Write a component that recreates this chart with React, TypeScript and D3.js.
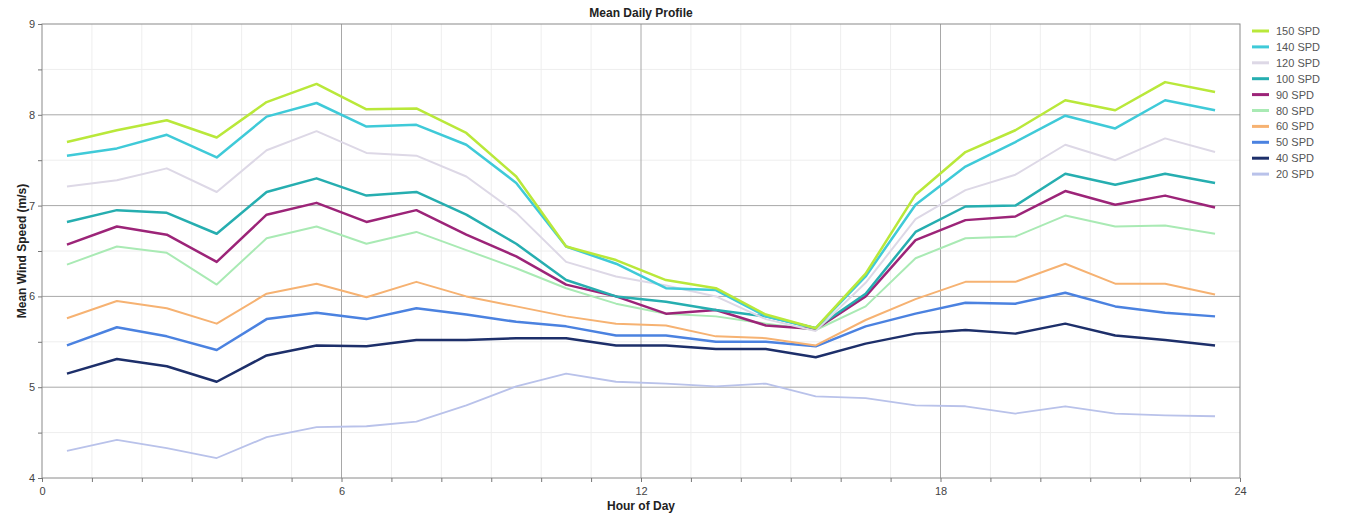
import { useRef, useEffect } from 'react';
import * as d3 from 'd3';

const hours = [
  0.5, 1.5, 2.5, 3.5, 4.5, 5.5, 6.5, 7.5, 8.5, 9.5, 10.5, 11.5, 12.5, 13.5, 14.5, 15.5, 16.5,
  17.5, 18.5, 19.5, 20.5, 21.5, 22.5, 23.5,
];

const spd150 = [7.7, 7.83, 7.94, 7.75, 8.14, 8.34, 8.06, 8.07, 7.8, 7.32, 6.55, 6.4, 6.18, 6.09, 5.8, 5.65, 6.25, 7.12, 7.59, 7.83, 8.16, 8.05, 8.36, 8.25];
const spd140 = [7.55, 7.63, 7.78, 7.53, 7.98, 8.13, 7.87, 7.89, 7.67, 7.25, 6.55, 6.36, 6.09, 6.07, 5.78, 5.65, 6.22, 7.01, 7.43, 7.7, 7.99, 7.85, 8.16, 8.05];
const spd120 = [7.21, 7.28, 7.41, 7.15, 7.61, 7.82, 7.58, 7.55, 7.32, 6.92, 6.38, 6.22, 6.12, 6.0, 5.75, 5.62, 6.15, 6.85, 7.17, 7.34, 7.67, 7.5, 7.74, 7.59];
const spd100 = [6.82, 6.95, 6.92, 6.69, 7.15, 7.3, 7.11, 7.15, 6.9, 6.58, 6.18, 6.0, 5.94, 5.85, 5.78, 5.65, 6.03, 6.71, 6.99, 7.0, 7.35, 7.23, 7.35, 7.25];
const spd90 = [6.57, 6.77, 6.68, 6.38, 6.9, 7.03, 6.82, 6.95, 6.68, 6.44, 6.13, 6.0, 5.81, 5.85, 5.68, 5.64, 6.0, 6.62, 6.84, 6.88, 7.16, 7.01, 7.11, 6.98];
const spd80 = [6.35, 6.55, 6.48, 6.13, 6.64, 6.77, 6.58, 6.71, 6.51, 6.31, 6.09, 5.92, 5.81, 5.78, 5.7, 5.63, 5.89, 6.42, 6.64, 6.66, 6.89, 6.77, 6.78, 6.69];
const spd60 = [5.76, 5.95, 5.87, 5.7, 6.03, 6.14, 5.99, 6.16, 6.0, 5.89, 5.78, 5.7, 5.68, 5.56, 5.54, 5.46, 5.74, 5.97, 6.16, 6.16, 6.36, 6.14, 6.14, 6.02];
const spd50 = [5.46, 5.66, 5.56, 5.41, 5.75, 5.82, 5.75, 5.87, 5.8, 5.72, 5.67, 5.57, 5.57, 5.5, 5.5, 5.45, 5.67, 5.81, 5.93, 5.92, 6.04, 5.89, 5.82, 5.78];
const spd40 = [5.15, 5.31, 5.23, 5.06, 5.35, 5.46, 5.45, 5.52, 5.52, 5.54, 5.54, 5.46, 5.46, 5.42, 5.42, 5.33, 5.48, 5.59, 5.63, 5.59, 5.7, 5.57, 5.52, 5.46];
const spd20 = [4.3, 4.42, 4.33, 4.22, 4.45, 4.56, 4.57, 4.62, 4.8, 5.01, 5.15, 5.06, 5.04, 5.01, 5.04, 4.9, 4.88, 4.8, 4.79, 4.71, 4.79, 4.71, 4.69, 4.68];

const seriesNames = ['150 SPD', '140 SPD', '120 SPD', '100 SPD', '90 SPD', '80 SPD', '60 SPD', '50 SPD', '40 SPD', '20 SPD'];
const seriesValues = [spd150, spd140, spd120, spd100, spd90, spd80, spd60, spd50, spd40, spd20];
const seriesColors = ['#b9e83a', '#3fcad8', '#ddd8e6', '#26aeb0', '#9c2478', '#a9eab4', '#f6b272', '#4b82e0', '#1d2f6a', '#b9c2ea'];
const seriesWidths = [2.5, 2.5, 2, 2.5, 2.5, 2, 2, 2.5, 2.5, 1.8];

const xTicks = [0, 6, 12, 18, 24];
const yTicks = [4, 5, 6, 7, 8, 9];

const W = 1346;
const H = 519;
const plot = { left: 42, right: 1240, top: 24, bottom: 478 };
const font = '"Liberation Sans", Arial, sans-serif';

export default function App() {
  const gx = useRef<SVGGElement>(null);
  const gy = useRef<SVGGElement>(null);

  const x = d3.scaleLinear().domain([0, 24]).range([plot.left, plot.right]);
  const y = d3.scaleLinear().domain([4, 9]).range([plot.bottom, plot.top]);

  const line = d3
    .line<[number, number]>()
    .x((d) => x(d[0]))
    .y((d) => y(d[1]));

  useEffect(() => {
    const el = gx.current;
    if (!el) return;
    const g = d3.select(el);
    g.call(d3.axisBottom(x).tickValues(d3.range(0, 25)).tickSize(4).tickFormat((d) => (xTicks.includes(d as number) ? String(d) : '')));
    g.select('.domain').remove();
    g.selectAll('line').attr('stroke', '#777');
    g.selectAll('text').attr('fill', '#444').attr('font-size', 11).attr('font-family', font).attr('dy', '0.9em');
    return () => {
      g.selectAll('*').remove();
    };
  }, [x]);

  useEffect(() => {
    const el = gy.current;
    if (!el) return;
    const g = d3.select(el);
    g.call(d3.axisLeft(y).tickValues(d3.range(4, 9.01, 0.5)).tickSize(4).tickFormat((d) => (yTicks.includes(d as number) ? String(d) : '')));
    g.select('.domain').remove();
    g.selectAll('line').attr('stroke', '#777');
    g.selectAll('text').attr('fill', '#444').attr('font-size', 11).attr('font-family', font);
    return () => {
      g.selectAll('*').remove();
    };
  }, [y]);

  const minorX = d3.range(1, 24).filter((h) => h % 6 !== 0);
  const minorY = d3.range(4.5, 9, 1);

  return (
    <svg width={W} height={H} style={{ position: 'absolute', left: 0, top: 0, background: '#fff' }}>
      <text x={(plot.left + plot.right) / 2} y={17} textAnchor="middle" fontFamily={font} fontSize={12} fontWeight="bold" fill="#222">
        Mean Daily Profile
      </text>

      {minorX.map((h) => (
        <line key={`mx${h}`} x1={x(h)} x2={x(h)} y1={plot.top} y2={plot.bottom} stroke="#eeeeee" />
      ))}
      {minorY.map((v) => (
        <line key={`my${v}`} x1={plot.left} x2={plot.right} y1={y(v)} y2={y(v)} stroke="#eeeeee" />
      ))}
      {xTicks.slice(1, -1).map((h) => (
        <line key={`gx${h}`} x1={x(h)} x2={x(h)} y1={plot.top} y2={plot.bottom} stroke="#a8a8a8" />
      ))}
      {yTicks.slice(1, -1).map((v) => (
        <line key={`gy${v}`} x1={plot.left} x2={plot.right} y1={y(v)} y2={y(v)} stroke="#a8a8a8" />
      ))}
      <rect x={plot.left} y={plot.top} width={plot.right - plot.left} height={plot.bottom - plot.top} fill="none" stroke="#8a8a8a" />

      {seriesValues
        .map((vals, i) => ({ vals, i }))
        .reverse()
        .map(({ vals, i }) => (
          <path
            key={seriesNames[i]}
            d={line(hours.map((h, j) => [h, vals[j]] as [number, number]))!}
            fill="none"
            stroke={seriesColors[i]}
            strokeWidth={seriesWidths[i]}
            strokeLinejoin="round"
          />
        ))}

      <g ref={gx} transform={`translate(0,${plot.bottom})`} />
      <g ref={gy} transform={`translate(${plot.left},0)`} />

      <text x={(plot.left + plot.right) / 2} y={510} textAnchor="middle" fontFamily={font} fontSize={12} fontWeight="bold" fill="#222">
        Hour of Day
      </text>
      <text
        transform={`translate(26,${(plot.top + plot.bottom) / 2}) rotate(-90)`}
        textAnchor="middle"
        fontFamily={font}
        fontSize={12}
        fontWeight="bold"
        fill="#222"
      >
        Mean Wind Speed (m/s)
      </text>

      {seriesNames.map((name, i) => (
        <g key={`lg${name}`} transform={`translate(1252,${31 + i * 15.9})`}>
          <line x1={0} x2={17} y1={0} y2={0} stroke={seriesColors[i]} strokeWidth={3} />
          <text x={24} y={4} fontFamily={font} fontSize={11} fill="#555">
            {name}
          </text>
        </g>
      ))}
    </svg>
  );
}
